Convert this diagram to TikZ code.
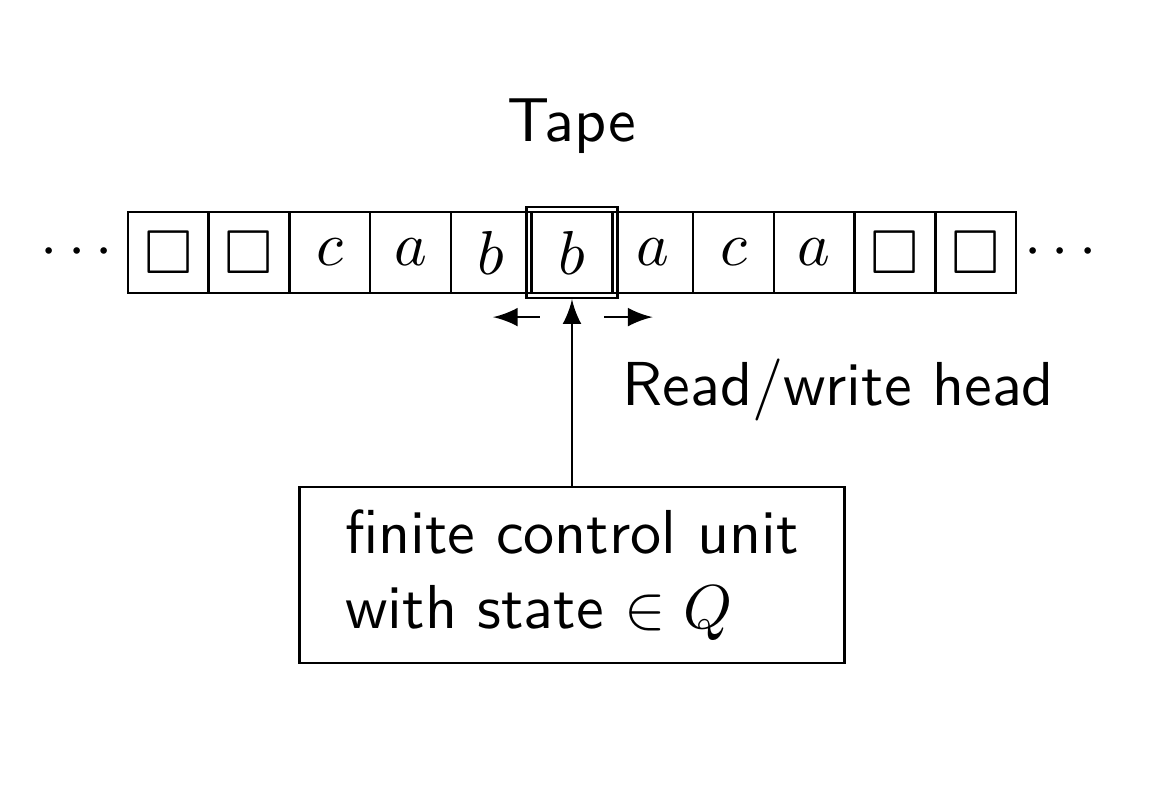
\documentclass[tikz,border=0pt]{standalone}
\usepackage{amssymb}
\usetikzlibrary{fit}

\begin{document}
\begin{tikzpicture}[x=13pt, y=13pt, font=\sffamily,
	cell/.style={draw, minimum size=13pt, inner sep=0pt}]
	\useasboundingbox (-1.5855, -6.633) rectangle (12.957, 3.128);

	\node[anchor=base] (tapelabel) at (5.5, 1.38) {Tape};

	\node[cell] (cell1) at (0.5, 0) {$\square$};
	\node[cell] (cell2) at (1.5, 0) {$\square$};
	\node[cell] (cell3) at (2.5, 0) {$c$};
	\node[cell] (cell4) at (3.5, 0) {$a$};
	\node[cell] (cell5) at (4.5, 0) {$b$};
	\node[cell] (cell6) at (5.5, 0) {$b$};
	\node[cell] (cell7) at (6.5, 0) {$a$};
	\node[cell] (cell8) at (7.5, 0) {$c$};
	\node[cell] (cell9) at (8.5, 0) {$a$};
	\node[cell] (cell10) at (9.5, 0) {$\square$};
	\node[cell] (cell11) at (10.5, 0) {$\square$};

	\node (leftdots) at (-0.63, 0) {$\cdots$};
	\node (rightdots) at (11.55, 0) {$\cdots$};

	\node[draw, fit=(cell6), inner sep=0.6pt] (head) {};

	\coordinate (leftfrom) at (5.1, -0.8);
	\coordinate (leftto) at (4.52, -0.8);
	\coordinate (rightfrom) at (5.9, -0.8);
	\coordinate (rightto) at (6.5, -0.8);
	\draw[-latex] (leftfrom) -- (leftto);
	\draw[-latex] (rightfrom) -- (rightto);

	\node[anchor=base west, inner sep=0pt] (headlabel) at (6.11, -1.89) {Read/write head};

	\node[draw, align=left, minimum width=87.8pt, minimum height=28.3pt] (control) at (5.5, -3.995) {finite control unit\\ with state $\in Q$};

	\draw[-latex] (control) -- (head);

\end{tikzpicture}
\end{document}
